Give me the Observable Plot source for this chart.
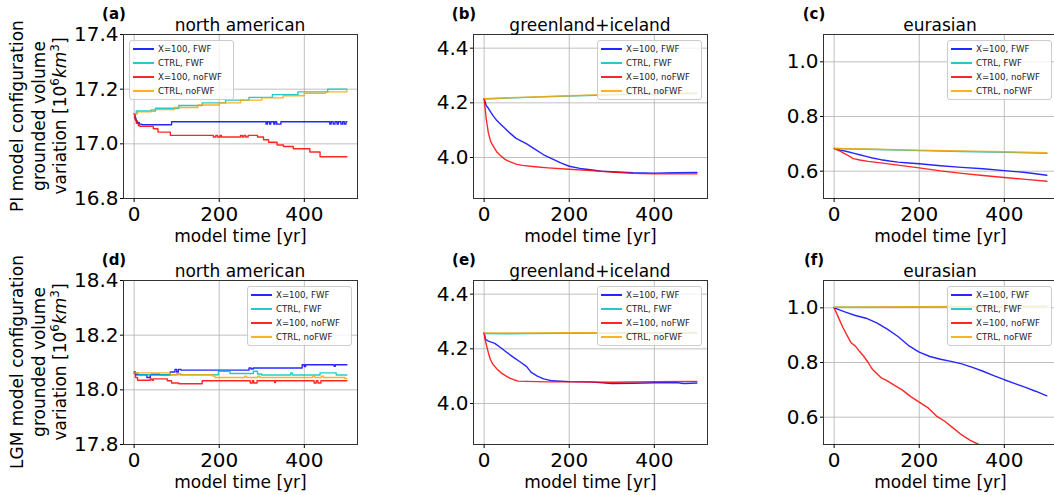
<!DOCTYPE html>
<html>
<head>
<meta charset="utf-8">
<script src="https://cdn.jsdelivr.net/npm/d3@7"></script>
<script src="https://cdn.jsdelivr.net/npm/@observablehq/plot@0.6"></script>
<style>
  html, body { margin: 0; padding: 0; background: #fff; }
  #wrap { position: relative; width: 1054px; height: 495px; overflow: hidden; font-family: "DejaVu Sans", sans-serif; color: #000; }
  #wrap svg { position: absolute; }
  .ov { position: absolute; white-space: nowrap; line-height: 1; }
  .rot { transform: translate(-50%, -50%) rotate(-90deg); font-size: 17px; }
  .ttl { transform: translate(-50%, -50%); font-size: 17px; }
  .tag { transform: translate(-50%, -50%); font-size: 15px; font-weight: bold; }
  .leg { position: absolute; border: 1px solid #cccccc; border-radius: 3px; background: rgba(255,255,255,0.8); box-sizing: border-box; }
  .leg .row { position: absolute; left: 0; height: 0; }
  .leg .sw { position: absolute; left: 3px; width: 21px; height: 1.6px; top: -0.8px; }
  .leg .tx { position: absolute; left: 28px; top: -5px; font-size: 8.6px; color: #222; white-space: nowrap; line-height: 10px; }
  sup { font-size: 70%; vertical-align: 0.55em; line-height: 0; }
</style>
</head>
<body>
<div id="wrap"></div>
<script>
// ---------- data ----------
const seriesNames = ["X=100, FWF", "CTRL, FWF", "X=100, noFWF", "CTRL, noFWF"];
const seriesColors = ["#0000ff", "#00bfbf", "#ff0000", "#ffa500"];
const xTicks = [0, 200, 400];
const regionTitles = ["north american", "greenland+iceland", "eurasian"];
const panelTags = ["(a)", "(b)", "(c)", "(d)", "(e)", "(f)"];
const rowLabels = ["PI model configuration", "LGM model configuration"];

// (a) PI, north american  [year, 10^6 km^3]
const naPI_X100_FWF = [[0,17.11],[2,17.095],[4,17.085],[7,17.078],[12,17.072],[18,17.07],[88,17.081],[310,17.072],[313,17.081],[318,17.072],[321,17.081],[328,17.072],[331,17.081],[335,17.072],[345,17.081],[460,17.072],[463,17.081],[468,17.072],[472,17.081],[477,17.072],[480,17.081],[486,17.072],[490,17.081],[494,17.072],[498,17.081],[500,17.081]];
const naPI_CTRL_FWF = [[0,17.11],[5,17.12],[50,17.13],[105,17.14],[160,17.15],[215,17.16],[270,17.17],[325,17.18],[385,17.19],[455,17.2],[500,17.2]];
const naPI_X100_noFWF = [[0,17.11],[2,17.09],[5,17.075],[10,17.066],[14,17.064],[45,17.055],[56,17.043],[85,17.031],[186,17.025],[192,17.031],[196,17.025],[202,17.031],[205,17.025],[250,17.031],[254,17.025],[258,17.031],[262,17.025],[268,17.031],[290,17.025],[304,17.015],[316,17.006],[336,16.996],[351,16.99],[374,16.982],[413,16.97],[437,16.953],[500,16.953]];
const naPI_CTRL_noFWF = [[0,17.11],[8,17.117],[40,17.125],[95,17.133],[150,17.142],[200,17.15],[250,17.16],[300,17.168],[350,17.176],[400,17.185],[450,17.19],[500,17.195]];

// (b) PI, greenland+iceland
const grPI_X100_FWF = [[0,4.215],[5,4.19],[10,4.18],[20,4.155],[30,4.135],[40,4.12],[50,4.105],[60,4.09],[75,4.07],[90,4.058],[100,4.05],[120,4.03],[140,4.01],[160,3.995],[180,3.98],[200,3.968],[225,3.96],[250,3.955],[275,3.95],[300,3.948],[350,3.944],[400,3.943],[450,3.944],[500,3.945]];
const grPI_CTRL_FWF = [[0,4.214],[100,4.22],[200,4.225],[300,4.229],[400,4.232],[500,4.234]];
const grPI_X100_noFWF = [[0,4.215],[3,4.17],[5,4.14],[8,4.11],[10,4.09],[15,4.06],[20,4.045],[30,4.02],[40,4.005],[50,3.992],[60,3.985],[75,3.976],[90,3.971],[120,3.966],[150,3.962],[200,3.957],[250,3.952],[300,3.947],[350,3.942],[400,3.94],[450,3.94],[500,3.94]];
const grPI_CTRL_noFWF = [[0,4.215],[100,4.221],[200,4.226],[300,4.231],[400,4.234],[500,4.237]];

// (c) PI, eurasian
const euPI_X100_FWF = [[0,0.683],[15,0.677],[30,0.672],[45,0.666],[60,0.66],[75,0.654],[90,0.648],[110,0.642],[130,0.637],[150,0.633],[175,0.63],[200,0.627],[250,0.62],[300,0.614],[350,0.609],[400,0.602],[450,0.595],[500,0.585]];
const euPI_CTRL_FWF = [[0,0.683],[100,0.679],[200,0.675],[300,0.672],[400,0.669],[500,0.665]];
const euPI_X100_noFWF = [[0,0.683],[15,0.672],[30,0.66],[45,0.646],[60,0.641],[80,0.636],[100,0.632],[150,0.622],[200,0.612],[250,0.601],[300,0.592],[350,0.584],[400,0.577],[450,0.57],[500,0.563]];
const euPI_CTRL_noFWF = [[0,0.683],[100,0.68],[200,0.677],[300,0.674],[400,0.671],[500,0.668]];

// (d) LGM, north american
const naLGM_X100_FWF = [[0,18.065],[3,18.055],[30,18.045],[38,18.055],[85,18.065],[96,18.075],[100,18.065],[104,18.075],[110,18.072],[270,18.08],[275,18.076],[280,18.08],[300,18.08],[395,18.092],[400,18.085],[403,18.092],[470,18.086],[473,18.092],[500,18.092]];
const naLGM_CTRL_FWF = [[0,18.062],[10,18.055],[40,18.058],[60,18.055],[100,18.058],[110,18.055],[198,18.068],[225,18.06],[280,18.068],[290,18.058],[300,18.054],[368,18.062],[372,18.054],[437,18.062],[475,18.054],[500,18.054]];
const naLGM_X100_noFWF = [[0,18.062],[3,18.045],[8,18.035],[38,18.04],[42,18.035],[45,18.04],[78,18.033],[88,18.025],[105,18.022],[160,18.033],[273,18.025],[278,18.033],[281,18.025],[289,18.033],[330,18.027],[332,18.033],[423,18.025],[428,18.033],[432,18.025],[439,18.033],[500,18.033]];
const naLGM_CTRL_noFWF = [[0,18.062],[85,18.055],[185,18.05],[190,18.045],[260,18.05],[264,18.045],[290,18.05],[295,18.045],[420,18.05],[425,18.045],[440,18.05],[445,18.045],[495,18.042],[500,18.042]];

// (e) LGM, greenland+iceland
const grLGM_X100_FWF = [[0,4.258],[3,4.235],[10,4.228],[25,4.22],[40,4.203],[55,4.185],[70,4.168],[85,4.152],[100,4.135],[110,4.115],[125,4.1],[140,4.09],[160,4.083],[200,4.08],[250,4.079],[300,4.073],[350,4.074],[400,4.076],[450,4.077],[470,4.073],[500,4.075]];
const grLGM_CTRL_FWF = [[0,4.256],[50,4.255],[100,4.256],[200,4.257],[300,4.258],[400,4.258],[500,4.258]];
const grLGM_X100_noFWF = [[0,4.258],[3,4.23],[6,4.21],[10,4.185],[15,4.16],[20,4.145],[30,4.126],[40,4.112],[50,4.102],[60,4.093],[70,4.087],[80,4.082],[100,4.081],[150,4.079],[200,4.079],[300,4.078],[400,4.08],[500,4.081]];
const grLGM_CTRL_noFWF = [[0,4.258],[100,4.258],[200,4.259],[300,4.259],[400,4.26],[500,4.26]];

// (f) LGM, eurasian
const euLGM_X100_FWF = [[0,1.0],[25,0.985],[50,0.972],[75,0.962],[100,0.945],[125,0.922],[150,0.895],[175,0.862],[200,0.838],[225,0.822],[250,0.812],[275,0.804],[300,0.795],[325,0.782],[350,0.768],[375,0.752],[400,0.737],[425,0.723],[450,0.709],[475,0.694],[500,0.678]];
const euLGM_CTRL_FWF = [[0,1.002],[100,1.002],[200,1.003],[300,1.004],[400,1.004],[500,1.005]];
const euLGM_X100_noFWF = [[0,1.0],[10,0.965],[20,0.93],[30,0.9],[40,0.872],[50,0.86],[60,0.84],[70,0.822],[80,0.8],[90,0.775],[100,0.76],[110,0.745],[125,0.733],[140,0.718],[160,0.7],[180,0.675],[200,0.655],[220,0.635],[240,0.605],[260,0.585],[280,0.56],[300,0.535],[320,0.515],[340,0.5],[350,0.49]];
const euLGM_CTRL_noFWF = [[0,1.002],[100,1.003],[200,1.004],[300,1.005],[400,1.006],[500,1.006]];

const yDomains = [[16.8, 17.4], [3.85, 4.45], [0.5, 1.1], [17.8, 18.4], [3.85, 4.45], [0.5, 1.1]];
const yTickSets = [[16.8, 17.0, 17.2, 17.4], [4.0, 4.2, 4.4], [0.6, 0.8, 1.0], [17.8, 18.0, 18.2, 18.4], [4.0, 4.2, 4.4], [0.6, 0.8, 1.0]];

// ---------- layout ----------
const FW = 234, FH = 164;
const ML = 100, MR = 12, MT = 34, MB = 50;
const colLeft = [123, 473, 823];
const rowTop = [34, 280];

const panels = [
  {series: [naPI_X100_FWF, naPI_CTRL_FWF, naPI_X100_noFWF, naPI_CTRL_noFWF], curve: "step-after", leg: "left"},
  {series: [grPI_X100_FWF, grPI_CTRL_FWF, grPI_X100_noFWF, grPI_CTRL_noFWF], curve: "linear", leg: "right"},
  {series: [euPI_X100_FWF, euPI_CTRL_FWF, euPI_X100_noFWF, euPI_CTRL_noFWF], curve: "linear", leg: "right"},
  {series: [naLGM_X100_FWF, naLGM_CTRL_FWF, naLGM_X100_noFWF, naLGM_CTRL_noFWF], curve: "step-after", leg: "right"},
  {series: [grLGM_X100_FWF, grLGM_CTRL_FWF, grLGM_X100_noFWF, grLGM_CTRL_noFWF], curve: "linear", leg: "right"},
  {series: [euLGM_X100_FWF, euLGM_CTRL_FWF, euLGM_X100_noFWF, euLGM_CTRL_noFWF], curve: "linear", leg: "right"}
];

const wrap = document.getElementById("wrap");

function addDiv(cls, html, left, top, extra) {
  const d = document.createElement("div");
  d.className = "ov " + cls;
  d.innerHTML = html;
  d.style.left = left + "px";
  d.style.top = top + "px";
  if (extra) Object.assign(d.style, extra);
  wrap.appendChild(d);
  return d;
}

panels.forEach((p, idx) => {
  const col = idx % 3, row = Math.floor(idx / 3);
  const fl = colLeft[col], ft = rowTop[row];
  const yTicks = yTickSets[idx];
  const svg = Plot.plot({
    width: ML + FW + MR,
    height: MT + FH + MB,
    marginLeft: ML, marginRight: MR, marginTop: MT, marginBottom: MB,
    style: {fontFamily: "DejaVu Sans", fontSize: "20px", background: "transparent", overflow: "visible", color: "#000"},
    x: {domain: [-25, 525]},
    y: {domain: yDomains[idx]},
    marks: [
      Plot.gridX(xTicks, {stroke: "#b0b0b0", strokeOpacity: 1, strokeWidth: 0.8}),
      Plot.gridY(yTicks, {stroke: "#b0b0b0", strokeOpacity: 1, strokeWidth: 0.8}),
      ...p.series.map((s, i) => Plot.line(s, {
        x: d => d[0], y: d => d[1],
        stroke: seriesColors[i], strokeWidth: 1.4, strokeOpacity: 0.85,
        curve: p.curve, clip: true
      })),
      Plot.frame({stroke: "#333", strokeWidth: 1}),
      Plot.axisX(xTicks, {tickSize: 4, tickPadding: 4, fontSize: 20, label: null}),
      Plot.axisY(yTicks, {tickSize: 3, tickPadding: 2, fontSize: 20, label: null, tickFormat: d => d.toFixed(1)}),
      Plot.text(["model time [yr]"], {text: d => d, frameAnchor: "bottom", lineAnchor: "middle", dy: 38, fontSize: 17})
    ]
  });
  svg.style.left = (fl - ML) + "px";
  svg.style.top = (ft - MT) + "px";
  wrap.appendChild(svg);

  // title and tag
  addDiv("ttl", regionTitles[col], fl + FW / 2, ft - 9);
  addDiv("tag", panelTags[idx], fl - 9, ft - 20);

  // legend
  const lw = 105, lh = 60;
  const lx = p.leg === "left" ? fl + 6 : fl + FW - 5 - lw;
  const ly = ft + 6;
  const leg = document.createElement("div");
  leg.className = "leg";
  Object.assign(leg.style, {left: lx + "px", top: ly + "px", width: lw + "px", height: lh + "px"});
  seriesNames.forEach((name, i) => {
    const r = document.createElement("div");
    r.className = "row";
    r.style.top = (8 + i * 14) + "px";
    r.innerHTML = `<div class="sw" style="background:${seriesColors[i]};opacity:0.85"></div><div class="tx">${name}</div>`;
    leg.appendChild(r);
  });
  wrap.appendChild(leg);
});

// y-axis row labels
[0, 1].forEach(row => {
  const cy = rowTop[row] + FH / 2;
  addDiv("rot", rowLabels[row], 17, cy);
  addDiv("rot", "grounded volume", 38.5, cy);
  addDiv("rot", "variation [10<sup>6</sup><i>km</i><sup>3</sup>]", 60, cy);
});
</script>
</body>
</html>
